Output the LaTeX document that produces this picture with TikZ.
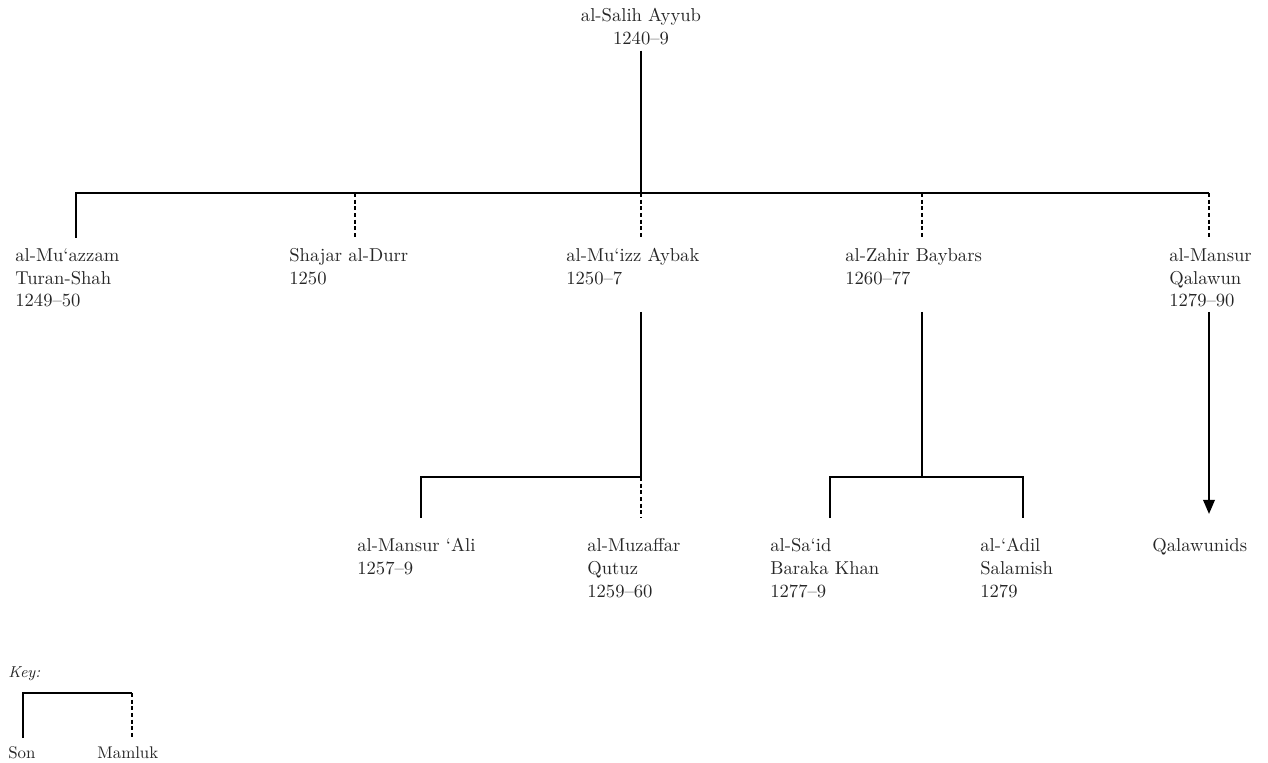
\documentclass[tikz,border=0pt]{standalone}
\usetikzlibrary{arrows.meta, positioning, calc}
\tikzstyle{ruler} = [anchor=north west, inner sep=0pt, align=left, text=black!85, font=\fontsize{10.6}{13}\selectfont]
\tikzstyle{son} = [line width=1.2pt]
\tikzstyle{mamluk} = [line width=1.2pt, dash pattern=on 2.2pt off 1.6pt]
\tikzstyle{arrow} = [son, -{Triangle[length=8pt,width=6.5pt]}]

\begin{document}
\begin{tikzpicture}[x=0.02cm, y=-0.02cm]
    \useasboundingbox (0,0) rectangle (1268,763);

    % rulers
    \node (ayyub) [ruler, anchor=north, align=center] at (641,8) {al-Salih Ayyub\\1240--9};
    \node (turanshah) [ruler] at (15,248) {al-Mu‘azzam\\Turan-Shah\\1249--50};
    \node (shajar) [ruler] at (289,248) {Shajar al-Durr\\1250};
    \node (aybak) [ruler] at (566,248) {al-Mu‘izz Aybak\\1250--7};
    \node (baybars) [ruler] at (845,248) {al-Zahir Baybars\\1260--77};
    \node (qalawun) [ruler] at (1169,248) {al-Mansur\\Qalawun\\1279--90};
    \node (ali) [ruler] at (357,538) {al-Mansur ‘Ali\\1257--9};
    \node (qutuz) [ruler] at (587,538) {al-Muzaffar\\Qutuz\\1259--60};
    \node (baraka) [ruler] at (770,538) {al-Sa‘id\\Baraka Khan\\1277--9};
    \node (salamish) [ruler] at (980,538) {al-‘Adil\\Salamish\\1279};
    \node (qalawunids) [ruler] at (1152,538) {Qalawunids};

    % joints
    \foreach \x/\n in {76/b1, 355/b2, 641/b3, 922/b4, 1209/b5} {
        \coordinate (\n) at (\x,193);
        \coordinate (\n-end) at (\x,238);
    }
    \coordinate (aybak-from) at (641,312);
    \coordinate (aybak-joint) at (641,477);
    \coordinate (ali-top) at (421,477);
    \coordinate (ali-end) at (421,518);
    \coordinate (qutuz-end) at (641,518);
    \coordinate (baybars-from) at (922,312);
    \coordinate (baybars-joint) at (922,477);
    \coordinate (baraka-top) at (830,477);
    \coordinate (baraka-end) at (830,518);
    \coordinate (salamish-top) at (1023,477);
    \coordinate (salamish-end) at (1023,518);
    \coordinate (qalawun-from) at (1209,312);
    \coordinate (qalawun-end) at (1209,514);

    \draw [son] ([yshift=-3pt]ayyub.south) -- (b3);
    \draw [son] (b1-end) -- (b1) -- (b5);
    \draw [mamluk] (b2) -- (b2-end);
    \draw [mamluk] (b3) -- (b3-end);
    \draw [mamluk] (b4) -- (b4-end);
    \draw [mamluk] (b5) -- (b5-end);

    \draw [son] (aybak-from) -- (aybak-joint) -- (ali-top) -- (ali-end);
    \draw [mamluk] (aybak-joint) -- (qutuz-end);
    \draw [son] (baybars-from) -- (baybars-joint);
    \draw [son] (baraka-end) -- (baraka-top) -- (salamish-top) -- (salamish-end);
    \draw [arrow] (qalawun-from) -- (qalawun-end);

    % key
    \node (key) [ruler, font=\fontsize{9}{11}\selectfont\itshape] at (8,666) {Key:};
    \node (son) [ruler, font=\fontsize{9.6}{11}\selectfont] at (8,746) {Son};
    \node (mamluk) [ruler, font=\fontsize{9.6}{11}\selectfont] at (97,746) {Mamluk};
    \coordinate (key-left) at (23,693);
    \coordinate (key-right) at (132,693);
    \coordinate (key-son) at (23,738);
    \coordinate (key-mamluk) at (132,738);
    \draw [son] (key-son) -- (key-left) -- (key-right);
    \draw [mamluk] (key-right) -- (key-mamluk);
\end{tikzpicture}
\end{document}
